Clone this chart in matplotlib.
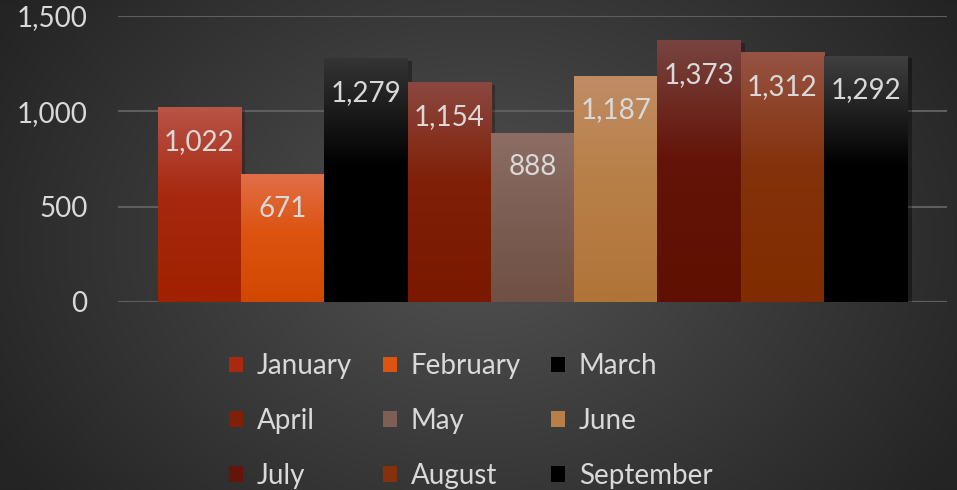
import matplotlib
matplotlib.use('Agg')
import matplotlib.pyplot as plt
import matplotlib.patheffects as pe
from matplotlib.patches import Patch
import numpy as np

# Data
months = ["January", "February", "March", "April", "May", "June",
          "July", "August", "September"]
values = [1022, 671, 1279, 1154, 888, 1187, 1373, 1312, 1292]

# gradient stops per bar: top, middle, bottom (RGB 0-255)
stops = [
    [(184, 84, 72), (168, 40, 16), (160, 32, 0)],
    [(226, 110, 72), (220, 84, 16), (208, 72, 0)],
    [(52, 52, 52), (0, 0, 0), (0, 0, 0)],
    [(140, 72, 64), (128, 32, 8), (122, 24, 0)],
    [(140, 110, 100), (125, 95, 85), (112, 80, 68)],
    [(192, 140, 100), (184, 128, 72), (176, 116, 56)],
    [(120, 68, 64), (100, 20, 8), (96, 16, 0)],
    [(150, 84, 68), (132, 50, 12), (128, 44, 0)],
    [(64, 64, 64), (0, 0, 0), (0, 0, 0)],
]

txt_color = '#d9d9d9'
plt.rcParams['font.family'] = ['Lato', 'DejaVu Sans']

fig = plt.figure(figsize=(9.57, 4.9), dpi=100)

# radial background
bg = fig.add_axes([0, 0, 1, 1], zorder=-10)
yy, xx = np.mgrid[0:490, 0:957]
r = np.sqrt(((xx - 480) / 560.0) ** 2 + ((yy - 240) / 420.0) ** 2)
r = np.clip(r, 0, 1)
inner = np.array([82, 82, 82]) / 255.0
outer = np.array([36, 36, 36]) / 255.0
img = inner[None, None, :] * (1 - r[..., None]) + outer[None, None, :] * r[..., None]
bg.imshow(img, aspect='auto', extent=(0, 1, 0, 1), origin='upper')
bg.axis('off')

ax = fig.add_axes([0.1233, 0.3837, 0.8663, 0.5836])
ax.patch.set_alpha(0)

x = np.arange(len(values))
bars = ax.bar(x, values, width=1.0, zorder=2,
              color=[tuple(c / 255.0 for c in s[1]) for s in stops])

t = np.linspace(0, 1, 200)
for b, s in zip(bars, stops):
    b.set_path_effects([pe.SimplePatchShadow(offset=(3, -2), alpha=0.35),
                        pe.Normal()])
    cols = np.array(s) / 255.0
    grad = np.stack([np.interp(t, [0, 0.45, 1], cols[:, k]) for k in range(3)],
                    axis=-1)[:, None, :]
    im = ax.imshow(grad, aspect='auto', zorder=3,
                   extent=(b.get_x(), b.get_x() + b.get_width(), 0, b.get_height()))
    im.set_clip_path(b)

for xi, v in zip(x, values):
    ax.annotate(f"{v:,}", (xi, v), xytext=(0, -25), textcoords='offset points',
                ha='center', va='center', color=txt_color, fontsize=20, zorder=5)

g = 0.476
ax.set_xlim(-0.5 - g, len(values) - 0.5 + g)
ax.set_ylim(0, 1500)
ax.set_yticks([0, 500, 1000, 1500])
ax.set_yticklabels([f"{v:,}" for v in [0, 500, 1000, 1500]])
ax.set_xticks([])
ax.tick_params(axis='y', length=0, pad=22, labelsize=20, labelcolor=txt_color)
for sp in ax.spines.values():
    sp.set_visible(False)
ax.set_axisbelow(True)
ax.grid(axis='y', color='#5e5e5e', linewidth=1.5)
ax.axhline(0, color='#5e5e5e', linewidth=1.5, zorder=1)

# legend filled row by row
handles = [Patch(facecolor=tuple(c / 255.0 for c in s[1]), edgecolor='none')
           for s in stops]
order = [0, 3, 6, 1, 4, 7, 2, 5, 8]
leg = fig.legend([handles[i] for i in order], [months[i] for i in order],
                 ncol=3, loc='upper left',
                 bbox_to_anchor=(0.2396, 0.279), frameon=False, fontsize=20,
                 handlelength=0.5, handleheight=0.5, handletextpad=0.5,
                 columnspacing=1.1, labelspacing=1.03, labelcolor=txt_color,
                 borderpad=0, borderaxespad=0)

fig.savefig('out.png', dpi=100)
